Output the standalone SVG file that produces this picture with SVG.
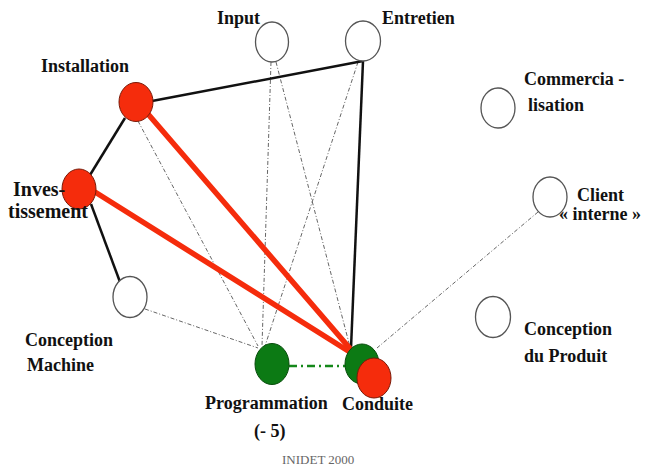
<svg xmlns="http://www.w3.org/2000/svg" width="645" height="469" viewBox="0 0 645 469">
<style>
.lbl{font-family:"Liberation Serif","Times New Roman",serif;font-weight:bold;font-size:18px;fill:#111}
.big{font-size:20px}
.foot{font-family:"Liberation Serif","Times New Roman",serif;font-size:13px;fill:#666}
.open{fill:#fff;stroke:#555;stroke-width:1.3}
.red{fill:#f52c0c;stroke:#7a1a08;stroke-width:1}
.green{fill:#0c7a14;stroke:#084d0c;stroke-width:1}
.solid{stroke:#111;stroke-width:2.5;fill:none}
.thick{stroke:#f52c0c;stroke-width:5.5;fill:none;stroke-linecap:round}
.dot{stroke:#666;stroke-width:1;fill:none;stroke-dasharray:4 2 1 2}
.gdash{stroke:#14881a;stroke-width:2.5;fill:none;stroke-dasharray:8 4 2 4}
</style>
<rect width="645" height="469" fill="#fff"/>
<g id="connectors">
<line class="dot" x1="271" y1="62" x2="262" y2="346"/>
<line class="dot" x1="276" y1="62" x2="350" y2="347"/>
<line class="dot" x1="358" y1="62" x2="265" y2="346"/>
<line class="dot" x1="138" y1="121" x2="258" y2="346"/>
<line class="dot" x1="145" y1="309" x2="258" y2="348"/>
<line class="dot" x1="538" y1="212" x2="377" y2="348"/>
<line class="solid" x1="152" y1="101" x2="363" y2="61"/>
<line class="solid" x1="363" y1="61" x2="351" y2="348"/>
<line class="solid" x1="125" y1="118" x2="90" y2="175"/>
<line class="solid" x1="91" y1="204" x2="120" y2="282"/>
<line class="thick" x1="148" y1="114" x2="353" y2="352"/>
<line class="thick" x1="95" y1="192" x2="353" y2="354"/>
<line class="gdash" x1="289" y1="366" x2="346" y2="366"/>
</g>
<g id="input"><ellipse class="open" cx="272" cy="42" rx="16.5" ry="20"/><text class="lbl" x="217" y="24">Input</text></g>
<g id="entretien"><ellipse class="open" cx="363" cy="41" rx="17.5" ry="20"/><text class="lbl" x="382" y="24">Entretien</text></g>
<g id="installation"><ellipse class="red" cx="136" cy="102" rx="17" ry="19.5"/><text class="lbl" x="41" y="72">Installation</text></g>
<g id="investissement"><ellipse class="red" cx="79" cy="189" rx="17" ry="20"/><text class="lbl big" x="13" y="196">Inves-</text><text class="lbl big" x="8" y="218" textLength="80">tissement</text></g>
<g id="conception-machine"><ellipse class="open" cx="130" cy="297" rx="17" ry="20.5"/><text class="lbl" x="25" y="346">Conception</text><text class="lbl" x="27" y="371">Machine</text></g>
<g id="programmation"><ellipse class="green" cx="272" cy="364" rx="17" ry="20.5"/><text class="lbl" x="205" y="409">Programmation</text><text class="lbl" x="254" y="437">(- 5)</text></g>
<g id="conduite"><ellipse class="green" cx="362" cy="364" rx="17" ry="20"/><ellipse class="red" cx="374" cy="378" rx="17" ry="20"/><text class="lbl" x="342" y="410">Conduite</text></g>
<g id="commercialisation"><ellipse class="open" cx="498" cy="108" rx="17" ry="20"/><text class="lbl" x="524" y="85">Commercia -</text><text class="lbl" x="528" y="111">lisation</text></g>
<g id="client"><ellipse class="open" cx="550" cy="197" rx="17" ry="20"/><text class="lbl" x="577" y="201">Client</text><text class="lbl" x="559" y="220">« interne »</text></g>
<g id="conception-produit"><ellipse class="open" cx="493" cy="317" rx="17.5" ry="20.5"/><text class="lbl" x="524" y="335">Conception</text><text class="lbl" x="524" y="362">du Produit</text></g>
<text class="foot" x="282" y="464">INIDET 2000</text>
</svg>
